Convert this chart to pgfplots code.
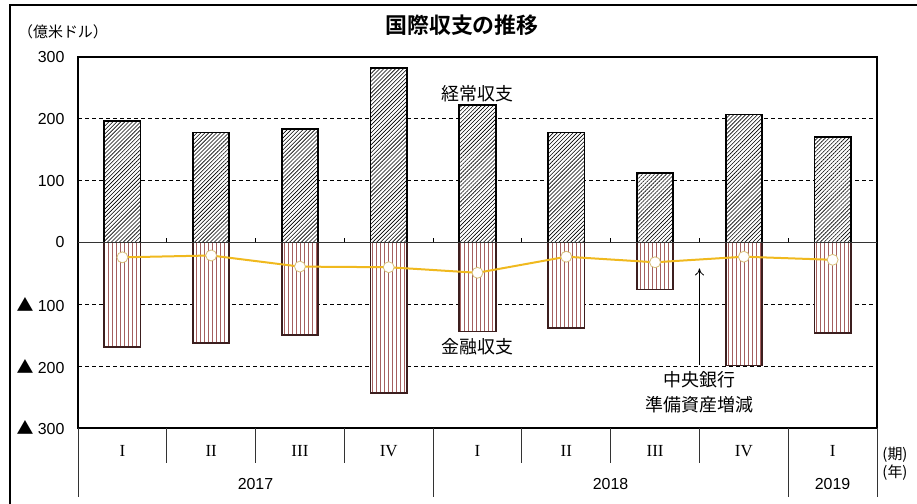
\documentclass[border=0pt]{standalone}
\usepackage{pgfplots}
\pgfplotsset{compat=1.18}
\usepackage{fontspec}
\setmainfont{Liberation Sans}
\newfontfamily\jp{Noto Sans CJK JP}[BoldFont={* Bold}]
\newfontfamily\rom{Liberation Serif}
\usetikzlibrary{patterns.meta,arrows.meta}
\definecolor{hatchred}{RGB}{165,95,95}
\definecolor{barbrown}{RGB}{60,30,30}
\definecolor{gold}{RGB}{240,185,30}
\definecolor{markedge}{RGB}{215,190,120}
\newcommand{\tri}{{\jp\fontsize{17}{18}\selectfont ▲}\ }
\begin{document}
\begin{tikzpicture}[x=1bp,y=1bp]
\useasboundingbox (0,0) rectangle (917,504);
\draw[line width=1.5bp] (10,0) -- (10,499) -- (917,499);
\node[font=\jp\bfseries\fontsize{22}{24}\selectfont] at (462,479) {国際収支の推移};
\node[font=\jp\fontsize{15}{17}\selectfont] at (63,472) {（億米ドル）};
\begin{axis}[
  at={(78bp,76bp)}, anchor=south west, scale only axis,
  width=799bp, height=371bp,
  xmin=0, xmax=9, ymin=-300, ymax=300,
  ytick={-300,-200,...,300},
  yticklabels={\tri300,\tri200,\tri100,0,100,200,300},
  xtick=\empty,
  axis line style={line width=2.5bp},
  ymajorgrids,
  grid style={dash pattern=on 4bp off 3bp, black, line width=0.8bp},
  major tick length=0pt,
  yticklabel style={font=\fontsize{16}{18}\selectfont, xshift=-10bp},
  ybar, bar width=0.41,
  clip=false,
]
\addplot[bar shift=0pt, preaction={fill=white}, draw=black, line width=1.8bp,
  pattern={Lines[angle=45,distance=2.8bp,line width=0.6bp]}, pattern color=black]
  coordinates {(0.5,196) (1.5,178) (2.5,183) (3.5,282) (4.5,222) (5.5,178) (6.5,112) (7.5,207) (8.5,170)};
\addplot[bar shift=0pt, preaction={fill=white}, draw=barbrown, line width=1.8bp,
  pattern={Lines[angle=90,distance=4bp,line width=0.45bp]}, pattern color=hatchred]
  coordinates {(0.5,-169) (1.5,-162) (2.5,-149) (3.5,-243) (4.5,-144) (5.5,-138) (6.5,-76) (7.5,-199) (8.5,-146)};
\draw[line width=1bp, black!80] (axis cs:0,0) -- (axis cs:9,0);
\pgfplotsinvokeforeach{1,...,8}{\draw[line width=0.8bp] (axis cs:#1,0) -- ++(0pt,4bp);}
\addplot[sharp plot, color=gold, line width=2bp, mark=*, mark size=5.5pt,
  mark options={fill=white, draw=markedge, line width=0.8bp}]
  coordinates {(0.5,-24) (1.5,-21) (2.5,-39) (3.5,-40) (4.5,-49) (5.5,-23) (6.5,-32) (7.5,-23) (8.5,-28)};
\node[font=\jp\fontsize{18}{20}\selectfont] at (axis cs:4.5,240) {経常収支};
\node[font=\jp\fontsize{18}{20}\selectfont] at (axis cs:4.5,-169) {金融収支};
\node[font=\jp\fontsize{18}{20}\selectfont] at (axis cs:7,-222) {中央銀行};
\node[font=\jp\fontsize{18}{20}\selectfont] at (axis cs:7,-263) {準備資産増減};
\draw[-{To[length=7bp,width=9bp]}, line width=0.8bp] (axis cs:7,-198) -- (axis cs:7,-42);
\end{axis}
% category table below the axis
\foreach \i in {1,2,3,5,6,7} {\draw[line width=1bp, black!80] ({78+88.78*\i},76) -- ({78+88.78*\i},41);}
\foreach \i in {0,4,8,9} {\draw[line width=1bp, black!80] ({78+88.78*\i},76) -- ({78+88.78*\i},7);}
\foreach \i/\r in {0/I,1/II,2/III,3/IV,4/I,5/II,6/III,7/IV,8/I} {\node[font=\rom\fontsize{17}{19}\selectfont] at ({78+88.78*(\i+0.5)},53) {\r};}
\node[font=\fontsize{16}{18}\selectfont] at (255.5,20) {2017};
\node[font=\fontsize{16}{18}\selectfont] at (610.6,20) {2018};
\node[font=\fontsize{16}{18}\selectfont] at (832.6,20) {2019};
\node[font=\jp\fontsize{15}{17}\selectfont] at (895,49) {(期)};
\node[font=\jp\fontsize{15}{17}\selectfont] at (895,31) {(年)};
\end{tikzpicture}
\end{document}
